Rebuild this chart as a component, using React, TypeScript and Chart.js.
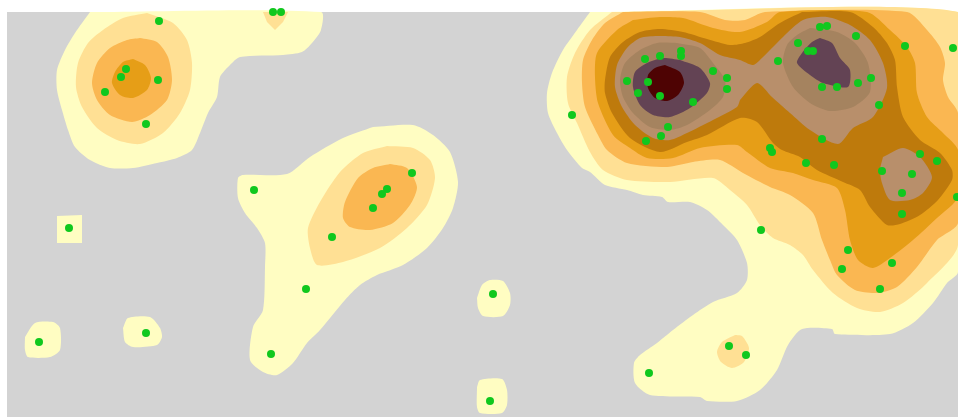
import React, { useEffect, useRef } from "react";
import { Chart, registerables } from "chart.js";

Chart.register(...registerables);

type P = [number, number];

const stations: P[] = [
  [159, 21], [121, 77], [126, 69], [158, 80], [105, 92], [146, 124], [273, 12], [281, 12],
  [254, 190], [412, 173], [387, 189], [382, 194], [373, 208], [332, 237], [306, 289], [271, 354],
  [69, 228], [39, 342], [146, 333], [493, 294], [490, 401], [649, 373], [729, 346], [746, 355],
  [761, 230], [572, 115], [645, 59], [660, 56], [681, 51], [681, 56], [713, 71], [727, 78],
  [727, 89], [627, 81], [648, 82], [638, 93], [660, 96], [693, 102], [668, 127], [661, 136],
  [646, 141], [770, 148], [772, 152], [820, 27], [827, 26], [856, 36], [905, 46], [953, 48],
  [798, 43], [808, 51], [813, 51], [778, 61], [822, 87], [837, 87], [858, 83], [871, 78],
  [879, 105], [822, 139], [806, 163], [834, 165], [920, 154], [937, 161], [882, 171], [912, 174],
  [902, 193], [902, 214], [957, 197], [848, 250], [842, 269], [892, 263], [880, 289],
];

const background: P[] = [[7, 12], [958, 12], [958, 417], [7, 417]];

const band1: P[][] = [
  [[90, 12], [321, 12], [321, 30], [312, 43], [302, 52], [283, 55], [240, 57], [230, 65], [220, 77], [217, 97], [208, 113], [200, 133], [192, 150], [177, 158], [157, 163], [133, 168], [110, 168], [90, 160], [75, 147], [68, 130], [62, 110], [57, 90], [57, 70], [65, 50], [75, 33]],
  [[373, 127], [413, 125], [433, 135], [450, 152], [458, 182], [453, 208], [443, 228], [427, 248], [403, 265], [377, 275], [360, 285], [345, 300], [320, 330], [307, 343], [293, 363], [277, 375], [263, 372], [250, 360], [253, 327], [263, 310], [265, 267], [265, 243], [257, 228], [245, 213], [238, 198], [238, 178], [243, 175], [287, 174], [310, 157], [343, 138]],
  [[57, 216], [82, 215], [82, 243], [57, 243]],
  [[25, 337], [35, 323], [53, 322], [60, 328], [60, 350], [50, 357], [28, 357], [25, 350]],
  [[123, 328], [128, 318], [150, 317], [160, 328], [162, 337], [157, 345], [133, 347], [125, 342]],
  [[477, 298], [482, 285], [490, 280], [503, 281], [510, 293], [510, 305], [503, 316], [483, 316], [478, 308]],
  [[477, 387], [480, 380], [502, 379], [507, 390], [507, 405], [502, 413], [480, 413], [477, 407]],
  [[590, 12], [958, 12], [958, 272], [947, 283], [933, 303], [913, 323], [890, 334], [835, 334], [832, 329], [802, 329], [788, 345], [777, 370], [760, 390], [737, 401], [707, 401], [700, 397], [650, 395], [635, 383], [634, 363], [640, 355], [657, 343], [673, 330], [693, 315], [713, 302], [737, 293], [747, 280], [747, 263], [737, 240], [723, 225], [707, 210], [690, 202], [668, 202], [662, 197], [643, 195], [627, 190], [605, 185], [590, 172], [582, 168], [567, 150], [557, 133], [548, 113], [547, 93], [552, 73], [563, 50], [577, 30]],
];

const band2: P[][] = [
  [[147, 13], [173, 23], [187, 40], [192, 63], [190, 90], [180, 113], [163, 133], [140, 144], [117, 140], [97, 128], [82, 107], [76, 87], [78, 63], [88, 43], [103, 30], [123, 18]],
  [[263, 12], [288, 12], [283, 22], [275, 30], [267, 22]],
  [[387, 146], [413, 148], [430, 160], [435, 178], [427, 205], [407, 228], [380, 248], [343, 262], [317, 265], [310, 248], [308, 228], [320, 202], [340, 172], [363, 153]],
  [[735, 335], [742, 336], [749, 348], [744, 362], [732, 368], [721, 362], [717, 352], [722, 342]],
  [[612, 12], [958, 12], [958, 245], [927, 283], [903, 303], [880, 312], [857, 308], [833, 293], [813, 270], [803, 255], [790, 245], [773, 238], [760, 225], [747, 205], [730, 190], [713, 178], [670, 182], [627, 180], [603, 170], [590, 152], [577, 123], [568, 103], [567, 77], [575, 53], [590, 30]],
];

const band3: P[][] = [
  [[140, 38], [157, 42], [168, 57], [172, 80], [167, 100], [150, 115], [132, 122], [110, 115], [97, 100], [92, 83], [97, 63], [110, 48], [127, 40]],
  [[390, 164], [407, 168], [417, 187], [410, 205], [393, 223], [370, 230], [350, 227], [343, 218], [345, 202], [358, 178], [373, 168]],
  [[623, 12], [700, 12], [725, 20], [745, 20], [765, 12], [907, 12], [927, 30], [940, 47], [945, 63], [943, 80], [948, 97], [958, 113], [958, 223], [937, 240], [917, 267], [897, 287], [877, 293], [855, 290], [837, 275], [830, 260], [822, 240], [813, 213], [790, 195], [770, 187], [743, 173], [720, 160], [693, 162], [667, 167], [627, 163], [607, 150], [598, 135], [585, 107], [582, 83], [583, 60], [592, 40], [605, 23]],
];

const band4: P[][] = [
  [[133, 59], [145, 65], [151, 78], [147, 90], [133, 98], [120, 95], [112, 83], [115, 72], [123, 62]],
  [[633, 20], [660, 17], [683, 18], [713, 28], [740, 32], [767, 22], [780, 12], [867, 12], [890, 30], [907, 47], [915, 63], [917, 93], [927, 117], [943, 133], [958, 150], [958, 197], [937, 218], [913, 240], [890, 258], [873, 268], [858, 260], [850, 240], [845, 210], [837, 188], [813, 180], [793, 173], [770, 168], [747, 152], [737, 145], [700, 148], [673, 158], [647, 158], [630, 148], [613, 135], [598, 103], [595, 77], [597, 53], [617, 30]],
];

const band5: P[][] = [
  [[802, 12], [850, 12], [873, 27], [887, 43], [895, 60], [897, 87], [903, 117], [920, 140], [940, 153], [952, 170], [952, 180], [938, 200], [920, 215], [900, 224], [887, 225], [870, 207], [860, 190], [843, 182], [817, 170], [800, 157], [782, 150], [773, 143], [757, 122], [740, 118], [707, 135], [687, 142], [660, 152], [630, 138], [612, 113], [605, 93], [605, 80], [610, 57], [623, 42], [640, 32], [660, 29], [683, 32], [707, 39], [730, 45], [745, 43], [760, 37], [780, 23]],
];

const band6: P[][] = [
  [[740, 100], [757, 83], [772, 97], [790, 113], [810, 130], [838, 144], [853, 128], [873, 117], [887, 88], [883, 63], [870, 40], [850, 25], [827, 17], [803, 20], [783, 37], [763, 57], [753, 65], [740, 60], [720, 55], [700, 43], [680, 37], [657, 36], [640, 38], [627, 48], [617, 65], [615, 87], [622, 107], [635, 125], [653, 138], [670, 140], [687, 133], [713, 120], [737, 107]],
  [[883, 157], [903, 148], [920, 157], [932, 177], [923, 193], [910, 200], [890, 200], [882, 183], [880, 170]],
];

const band7: P[][] = [
  [[677, 43], [700, 48], [713, 63], [725, 80], [723, 97], [710, 110], [687, 125], [670, 130], [650, 127], [633, 113], [623, 97], [620, 80], [625, 63], [640, 50], [657, 43]],
  [[810, 28], [837, 32], [855, 43], [868, 63], [870, 92], [853, 107], [830, 111], [810, 103], [793, 87], [783, 63], [787, 45], [797, 35]],
];

const band8: P[][] = [
  [[680, 60], [700, 68], [710, 83], [707, 93], [690, 108], [670, 117], [653, 115], [640, 105], [633, 87], [635, 72], [647, 63], [663, 58]],
  [[820, 38], [832, 43], [840, 58], [850, 70], [848, 87], [823, 83], [810, 75], [797, 63], [802, 53], [812, 42]],
];

const band9: P[][] = [
  [[665, 65], [680, 72], [684, 83], [678, 95], [667, 101], [655, 98], [648, 88], [648, 75], [655, 68]],
];

const bandColors = ["#FFFDC2", "#FFE094", "#FAB752", "#E69E17", "#BE7A0C", "#B88F6B", "#A5835F", "#634354", "#4E0303"];
const bands = [band1, band2, band3, band4, band5, band6, band7, band8, band9];

export default function App() {
  const ref = useRef<HTMLCanvasElement | null>(null);

  useEffect(() => {
    if (!ref.current) return;
    const toPts = (poly: P[]) => [...poly, poly[0]].map(([x, y]) => ({ x, y }));
    const polyDataset = (poly: P[], color: string, order: number, tension: number) => ({
      type: "scatter" as const,
      data: toPts(poly),
      showLine: true,
      fill: "shape",
      backgroundColor: color,
      borderColor: color,
      borderWidth: 0,
      pointRadius: 0,
      tension,
      order,
    });
    const datasets: any[] = [];
    let order = 1000;
    datasets.push(polyDataset(background, "#D3D3D3", order--, 0));
    bands.forEach((band, i) => {
      band.forEach((poly) => datasets.push(polyDataset(poly, bandColors[i], order--, poly.length > 6 ? 0.25 : 0)));
    });
    datasets.push({
      type: "scatter",
      data: stations.map(([x, y]) => ({ x, y })),
      showLine: false,
      pointStyle: "circle",
      pointRadius: 4,
      pointBackgroundColor: "#10C81E",
      pointBorderWidth: 0,
      clip: false,
      order: 0,
    });
    const chart = new Chart(ref.current, {
      type: "scatter",
      data: { datasets },
      options: {
        animation: false,
        responsive: false,
        maintainAspectRatio: false,
        layout: { padding: 0, autoPadding: false },
        plugins: { legend: { display: false }, tooltip: { enabled: false }, filler: { propagate: false } },
        scales: {
          x: { type: "linear", min: 0, max: 958, display: false },
          y: { type: "linear", min: 0, max: 417, reverse: true, display: false },
        },
      } as any,
    });
    return () => chart.destroy();
  }, []);

  return (
    <div style={{ position: "absolute", left: 0, top: 0, width: 958, height: 417, background: "#fff" }}>
      <canvas ref={ref} width={958} height={417} style={{ display: "block", width: 958, height: 417 }} />
    </div>
  );
}
